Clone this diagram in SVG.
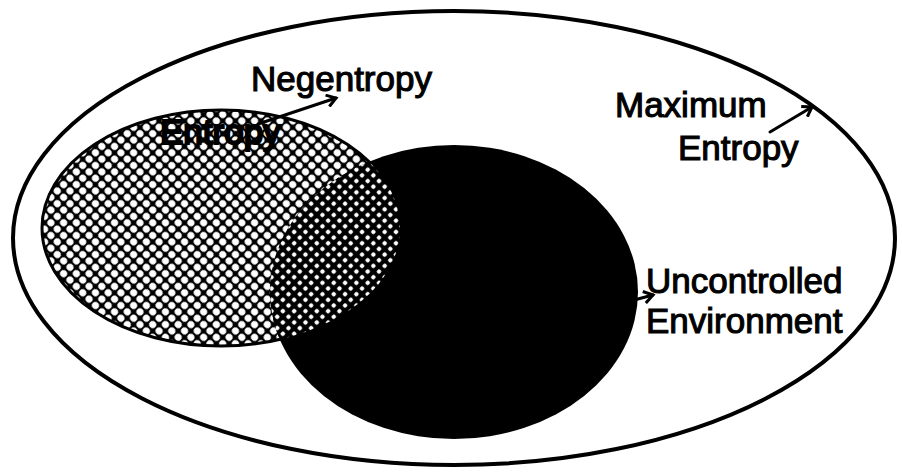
<svg xmlns="http://www.w3.org/2000/svg" width="902" height="473" viewBox="0 0 902 473">
<style>
.lbl{font-family:"Liberation Sans",Arial,sans-serif;font-size:35px;fill:#000;stroke:#000;stroke-width:1.1px}
.heavy{stroke-width:2.2px}
.con{fill:none;stroke:#000;stroke-width:3;stroke-linecap:round}
</style>
<defs>
<pattern id="hatch" width="9" height="9" patternUnits="userSpaceOnUse" patternTransform="rotate(45)">
<rect width="9" height="9" fill="#000"/>
<circle cx="4.5" cy="4.5" r="3.6" fill="#fff"/>
</pattern>
<pattern id="dots" width="8" height="8" patternUnits="userSpaceOnUse" patternTransform="rotate(45)">
<rect width="8" height="8" fill="#000"/>
<circle cx="4" cy="4" r="2.2" fill="#fff"/>
</pattern>
<clipPath id="clipA"><ellipse cx="221" cy="228" rx="179" ry="118"/></clipPath>
<marker id="arr" markerWidth="14" markerHeight="14" refX="11" refY="7" orient="auto" markerUnits="userSpaceOnUse">
<path d="M2,1 L11,7 L2,13" fill="none" stroke="#000" stroke-width="3"/>
</marker>
</defs>
<rect width="902" height="473" fill="#fff"/>
<g id="outer"><ellipse cx="454" cy="238" rx="441" ry="227" fill="none" stroke="#000" stroke-width="4"/></g>
<g id="entropy-set"><ellipse cx="221" cy="228" rx="179" ry="118" fill="url(#hatch)" stroke="#000" stroke-width="3"/></g>
<g id="environment"><ellipse cx="454" cy="292" rx="184" ry="147" fill="#000"/></g>
<g id="overlap"><ellipse cx="454" cy="292" rx="184" ry="147" fill="url(#dots)" clip-path="url(#clipA)"/></g>
<g id="connectors">
<line class="con" x1="258" y1="124" x2="336" y2="98" marker-end="url(#arr)"/>
<line class="con" x1="770" y1="132" x2="812" y2="107" marker-end="url(#arr)"/>
<line class="con" x1="634" y1="300" x2="653" y2="295" marker-end="url(#arr)"/>
</g>
<g id="labels">
<text class="lbl" x="251" y="91">Negentropy</text>
<text class="lbl heavy" x="160" y="144">Entropy</text>
<text class="lbl" x="615" y="117">Maximum</text>
<text class="lbl" x="678" y="160">Entropy</text>
<text class="lbl" x="646" y="293">Uncontrolled</text>
<text class="lbl" x="646" y="333">Environment</text>
</g>
</svg>
